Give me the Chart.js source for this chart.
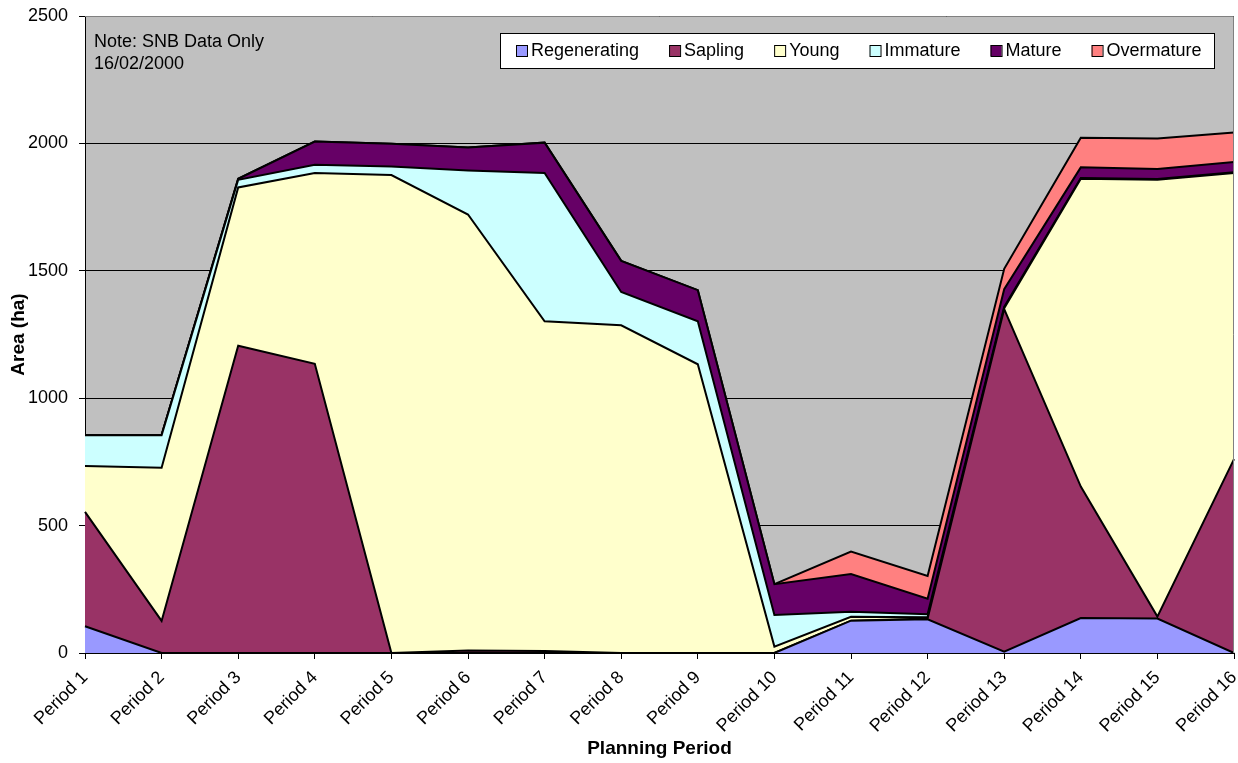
<!DOCTYPE html>
<html>
<head>
<meta charset="utf-8">
<script src="https://cdn.jsdelivr.net/npm/chart.js@4"></script>
<style>
  html, body { margin: 0; padding: 0; background: #fff; }
  #wrap { width: 1238px; height: 763px; position: relative; }
</style>
</head>
<body>
<div id="wrap"><canvas id="stageChart"></canvas></div>
<script>
// Area by development stage, per planning period (ha)
const periods = ['Period 1', 'Period 2', 'Period 3', 'Period 4', 'Period 5', 'Period 6', 'Period 7', 'Period 8',
                 'Period 9', 'Period 10', 'Period 11', 'Period 12', 'Period 13', 'Period 14', 'Period 15', 'Period 16'];
const regenerating = [105, 0, 0, 0, 0, 0, 0, 0, 0, 0, 127, 132, 5, 137, 135, 0];
const sapling      = [449, 126, 1206, 1135, 0, 10, 8, 0, 0, 0, 0, 3, 1345, 516, 8, 761];
const young        = [180, 601, 621, 749, 1876, 1711, 1294, 1286, 1133, 25, 15, 5, 3, 1208, 1714, 1123];
const immature     = [121, 128, 30, 32, 33, 173, 582, 131, 169, 124, 20, 12, 5, 3, 3, 3];
const mature       = [0, 0, 4, 91, 90, 90, 119, 122, 122, 121, 148, 61, 70, 42, 40, 40];
const overmature   = [0, 0, 0, 0, 0, 0, 0, 0, 0, 0, 88, 89, 80, 116, 119, 116];
const yTicks = [0, 500, 1000, 1500, 2000, 2500];

const seriesNames = ['Regenerating', 'Sapling', 'Young', 'Immature', 'Mature', 'Overmature'];
const seriesColors = ['#9999FF', '#993366', '#FFFFCC', '#CCFFFF', '#660066', '#FF8080'];
const seriesData = [regenerating, sapling, young, immature, mature, overmature];

const FONT = "'Liberation Sans', Arial, sans-serif";

// grey plot background, frame, note and boxed legend
const plotDecor = {
    id: 'plotDecor',
    beforeDraw(chart) {
        const { ctx, chartArea: a } = chart;
        ctx.save();
        ctx.fillStyle = '#C0C0C0';
        ctx.fillRect(a.left, a.top, a.right - a.left, a.bottom - a.top);
        ctx.restore();
    },
    afterDraw(chart) {
        const { ctx, chartArea: a } = chart;
        ctx.save();
        ctx.strokeStyle = '#808080';
        ctx.lineWidth = 1;
        ctx.beginPath();
        ctx.moveTo(a.left, a.top + 0.5);
        ctx.lineTo(a.right - 0.5, a.top + 0.5);
        ctx.lineTo(a.right - 0.5, a.bottom);
        ctx.stroke();

        // note
        ctx.fillStyle = '#000';
        ctx.font = '18px ' + FONT;
        ctx.textAlign = 'left';
        ctx.textBaseline = 'alphabetic';
        ctx.fillText('Note: SNB Data Only', a.left + 9, 47);
        ctx.fillText('16/02/2000', a.left + 9, 69);

        // legend
        ctx.fillStyle = '#fff';
        ctx.fillRect(500, 33, 714, 35);
        ctx.strokeStyle = '#000';
        ctx.strokeRect(500.5, 33.5, 714, 35);
        ctx.textBaseline = 'middle';
        let x = 516;
        chart.data.datasets.forEach(ds => {
            ctx.fillStyle = ds.backgroundColor;
            ctx.fillRect(x, 45, 11, 11);
            ctx.strokeStyle = '#000';
            ctx.strokeRect(x + 0.5, 45.5, 11, 11);
            ctx.fillStyle = '#000';
            ctx.fillText(ds.label, x + 15, 51);
            x += 15 + ctx.measureText(ds.label).width + 30;
        });
        ctx.restore();
    }
};

const datasets = seriesNames.map((name, i) => ({
    label: name,
    data: seriesData[i],
    backgroundColor: seriesColors[i],
    borderColor: '#000',
    borderWidth: 2,
    fill: i === 0 ? 'origin' : '-1',
    pointRadius: 0,
    tension: 0
}));

new Chart(document.getElementById('stageChart'), {
    type: 'line',
    data: { labels: periods, datasets: datasets },
    plugins: [plotDecor],
    options: {
        responsive: true,
        maintainAspectRatio: false,
        animation: false,
        layout: { padding: { top: 16, right: 4, left: 0, bottom: 0 } },
        plugins: {
            legend: { display: false },
            tooltip: { enabled: false }
        },
        scales: {
            x: {
                offset: false,
                grid: { drawOnChartArea: false, drawTicks: true, tickLength: 6, color: '#000' },
                border: { color: '#000', width: 1 },
                ticks: {
                    autoSkip: false, minRotation: 45, maxRotation: 45, padding: 8,
                    color: '#000', font: { family: FONT, size: 18 }
                },
                title: {
                    display: true, text: 'Planning Period', color: '#000',
                    font: { family: FONT, size: 19, weight: 'bold' }, padding: { top: 0, bottom: 3 }
                },
                afterFit(scale) {
                    scale.height = 110;
                    scale.paddingLeft = 0;
                    scale.paddingRight = 0;
                }
            },
            y: {
                stacked: true,
                min: 0,
                max: 2500,
                afterBuildTicks(scale) { scale.ticks = yTicks.map(v => ({ value: v })); },
                grid: { color: '#000', lineWidth: 1, tickLength: 6 },
                border: { color: '#000', width: 1 },
                ticks: {
                    padding: 11, color: '#000', font: { family: FONT, size: 18 },
                    callback: v => String(v)
                },
                title: {
                    display: true, text: 'Area (ha)', color: '#000',
                    font: { family: FONT, size: 19, weight: 'bold' }, padding: { top: 7, bottom: 0 }
                },
                afterFit(scale) {
                    scale.width = 85;
                    scale.paddingTop = 0;
                    scale.paddingBottom = 0;
                }
            }
        }
    }
});
</script>
</body>
</html>
